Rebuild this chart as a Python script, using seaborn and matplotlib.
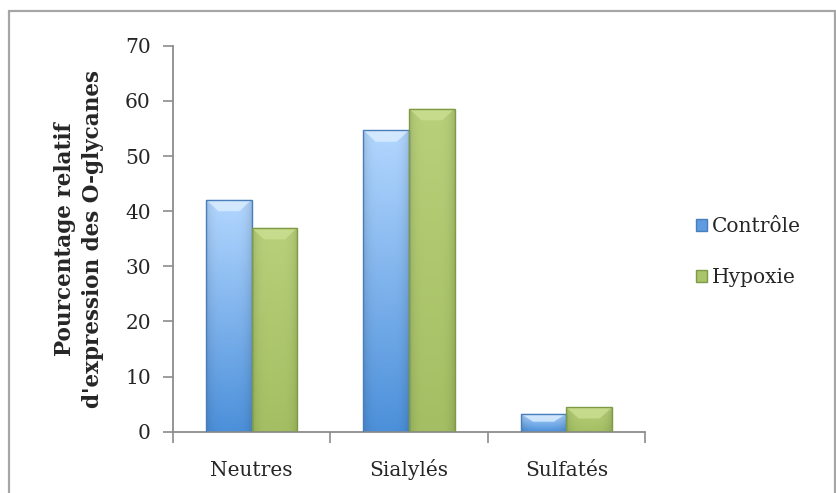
import numpy as np
import pandas as pd
import matplotlib
matplotlib.use("Agg")
import matplotlib.pyplot as plt
import seaborn as sns
from matplotlib.patches import Rectangle, Polygon, Patch
from matplotlib.colors import LinearSegmentedColormap

categories = ["Neutres", "Sialylés", "Sulfatés"]
series_names = ["Contrôle", "Hypoxie"]
controle = [42.1, 54.7, 3.3]
hypoxie = [37.0, 58.6, 4.4]
yticks = [0, 10, 20, 30, 40, 50, 60, 70]

df = pd.DataFrame({
    "cat": categories * 2,
    "serie": [series_names[0]] * 3 + [series_names[1]] * 3,
    "val": controle + hypoxie,
})

sns.set_theme(style="white")
plt.rcParams["font.family"] = ["DejaVu Serif"]

fig = plt.figure(figsize=(8.36, 4.93), dpi=100)
ax = fig.add_axes([0.207, 0.1243, 0.5645, 0.7827])

base_cols = {"Contrôle": "#6FA8E8", "Hypoxie": "#A9C46A"}
sns.barplot(data=df, x="cat", y="val", hue="serie", order=categories,
            hue_order=series_names, palette=base_cols, width=0.58, gap=0,
            ax=ax, legend=False, saturation=1)

grad_spec = {
    "Contrôle": (("#B3D7FF", "#4C90DA"), "#4A7EBB", "#DCEEFF"),
    "Hypoxie": (("#B8D07A", "#A4BF63"), "#7E9A45", "#CCDF92"),
}
patches = list(ax.patches)
n = len(categories)
for i, p in enumerate(patches):
    s = series_names[i // n]
    (ctop, cbot), edge, bevel = grad_spec[s]
    x, y = p.get_x(), p.get_y()
    w, h = p.get_width(), p.get_height()
    cmap = LinearSegmentedColormap.from_list("g", [cbot, ctop])
    v = np.linspace(0, 1, 200)[:, None]
    hx = np.linspace(-1, 1, 60)[None, :]
    shade = 1 - 0.12 * np.abs(hx) ** 4
    img = cmap(v * np.ones_like(hx))
    img[..., :3] *= shade[..., None]
    im = ax.imshow(img, extent=[x, x + w, y, y + h], origin="lower",
                   aspect="auto", zorder=2, interpolation="bilinear")
    im.set_clip_path(p)
    p.set_facecolor("none")
    p.set_edgecolor(edge)
    p.set_linewidth(1.0)
    p.set_zorder(3)
    b = min(2.1, h * 0.45)
    d = w * 0.27
    top = y + h
    poly = Polygon([(x, top), (x + w, top), (x + w - d, top - b), (x + d, top - b)],
                   closed=True, facecolor=bevel, edgecolor="none", alpha=0.8, zorder=2.5)
    ax.add_patch(poly)

ax.set_xlim(-0.5, 2.5)
ax.set_ylim(0, 70)
ax.set_yticks(yticks)
ax.set_yticklabels([str(t) for t in yticks], fontsize=14.5)
ax.set_xticks(range(n))
ax.set_xticklabels(categories, fontsize=14.5, va="baseline")
ax.set_xticks([-0.5, 0.5, 1.5, 2.5], minor=True)
ax.tick_params(axis="x", which="major", length=0, pad=32)
ax.tick_params(axis="x", which="minor", length=8, width=1.2, color="#8C8C8C", direction="out", bottom=True)
ax.tick_params(axis="y", which="major", length=7, width=1.2, color="#8C8C8C", direction="out", left=True, pad=9)
for side in ["top", "right"]:
    ax.spines[side].set_visible(False)
for side in ["left", "bottom"]:
    ax.spines[side].set_color("#8C8C8C")
    ax.spines[side].set_linewidth(1.3)
ax.set_xlabel("")
ax.set_ylabel("Pourcentage relatif\nd'expression des O-glycanes", fontsize=15.5,
              fontweight="bold", linespacing=1.35)
ax.yaxis.set_label_coords((104 - 173) / 472, 0.5)
ax.grid(False)

handles = [Patch(facecolor="#5F9BE0", edgecolor="#4A7EBB"),
           Patch(facecolor="#A9C46A", edgecolor="#7E9A45")]
fig.legend(handles, series_names, loc="center left",
           bbox_to_anchor=(688 / 836, 1 - 252 / 493), frameon=False,
           fontsize=14.5, handlelength=0.55, handleheight=0.55,
           handletextpad=0.25, labelspacing=1.6, borderaxespad=0)

fig.add_artist(Rectangle((8.5 / 836, -0.05), (835 - 8.5) / 836, 1.05 - 11.5 / 493,
                         transform=fig.transFigure, fill=False,
                         edgecolor="#A6A6A6", linewidth=1.6))

fig.savefig("out.png", dpi=100)
